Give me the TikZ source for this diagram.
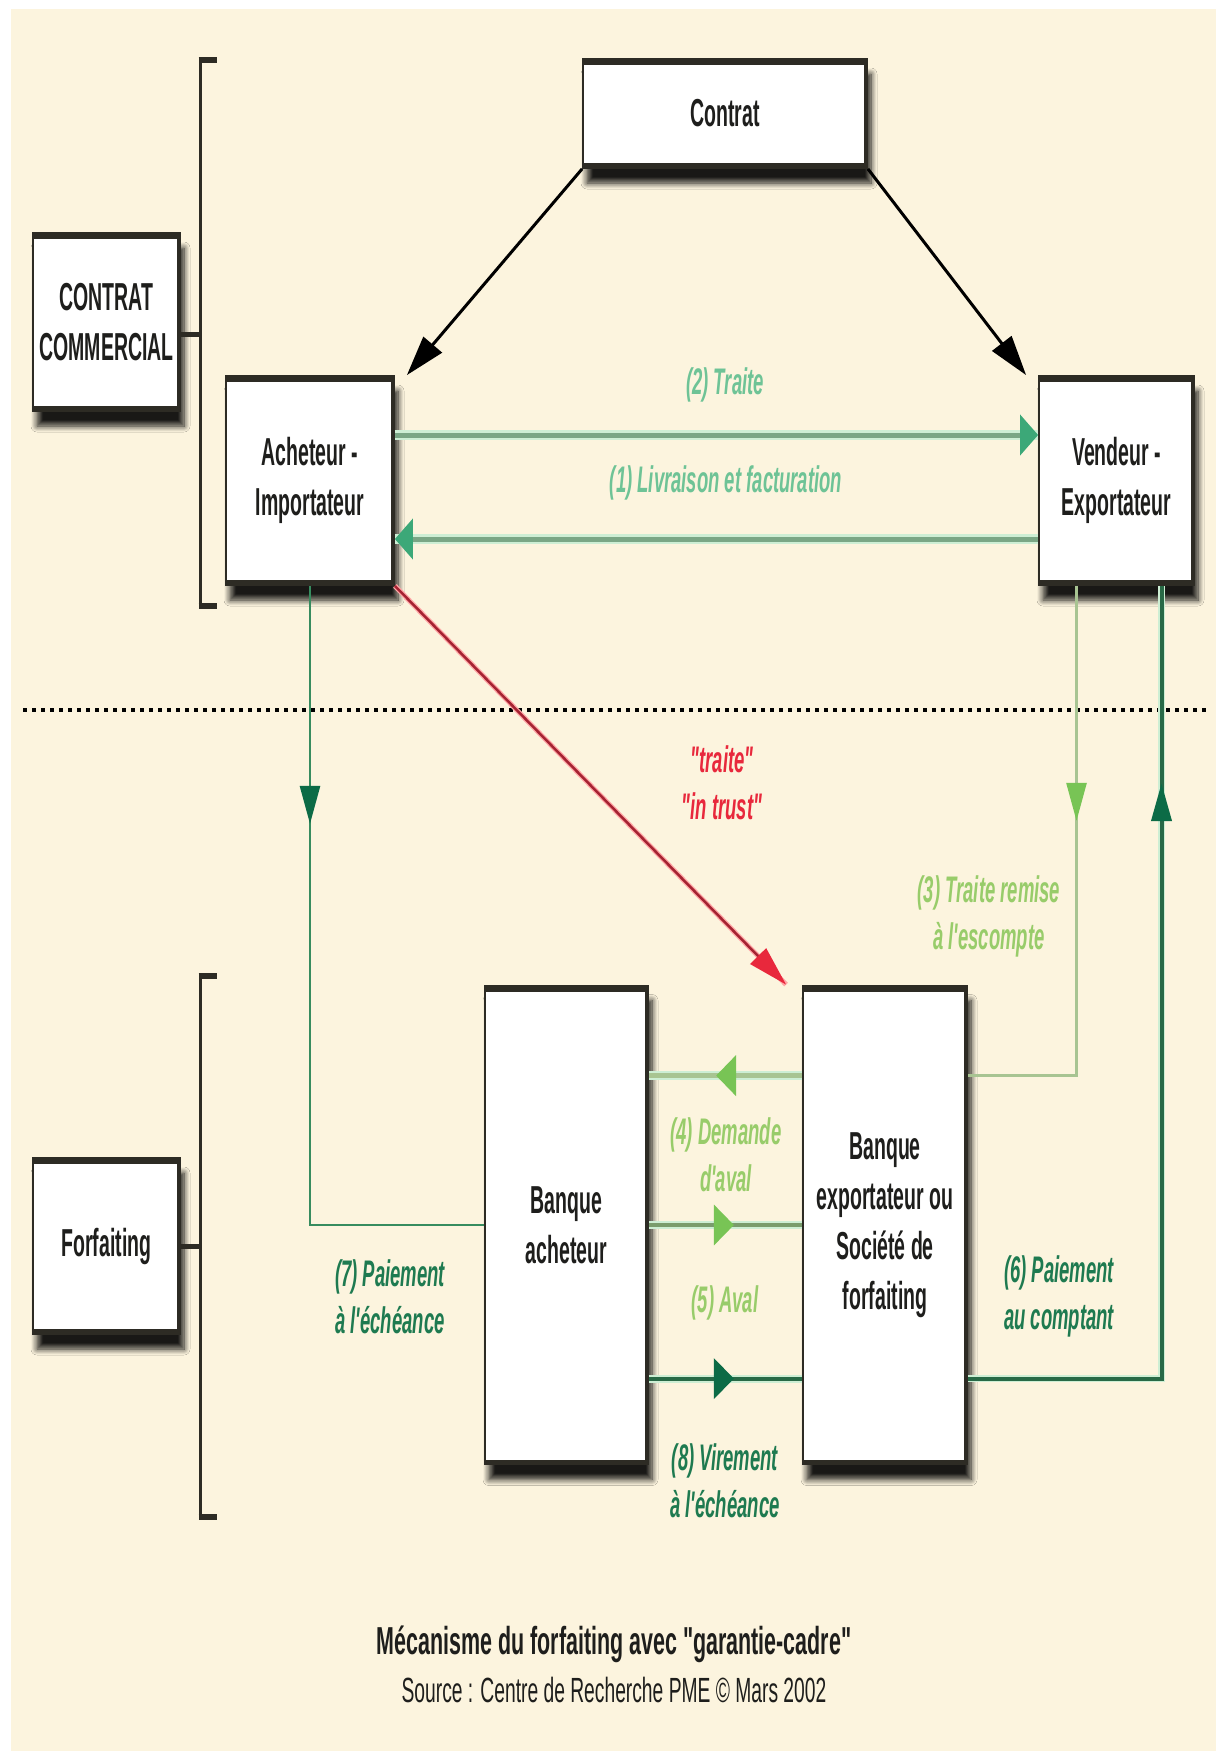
\documentclass[tikz,border=0pt]{standalone}
\usepackage{fontspec}
\newfontfamily\cf[FakeStretch=0.55]{Liberation Sans}
\newfontfamily\cfn[FakeStretch=0.5]{Liberation Sans}
\usetikzlibrary{arrows.meta,decorations.markings,shadows.blur}
\definecolor{cream}{RGB}{252,244,222}
\definecolor{boxedge}{RGB}{45,43,36}
\definecolor{mint}{RGB}{110,195,150}
\definecolor{minthead}{RGB}{60,168,120}
\definecolor{mintline}{RGB}{122,166,133}
\definecolor{mintglow}{RGB}{205,238,212}
\definecolor{lgreen}{RGB}{152,204,106}
\definecolor{lgline}{RGB}{168,196,146}
\definecolor{lghead}{RGB}{120,196,85}
\definecolor{mgline}{RGB}{122,156,108}
\definecolor{dgreen}{RGB}{30,122,80}
\definecolor{dgline}{RGB}{40,105,70}
\definecolor{dghead}{RGB}{12,107,70}
\definecolor{vline}{RGB}{55,140,95}
\definecolor{redtxt}{RGB}{232,40,60}
\definecolor{redline}{RGB}{165,35,50}
\definecolor{txt}{RGB}{30,30,28}
\begin{document}
\begin{tikzpicture}[x=1pt,y=-1pt,
  box/.style={draw=boxedge, line width=1.8pt, fill=white, inner sep=0pt, align=center,
    text=txt, font=\cfn\bfseries\fontsize{39}{50}\selectfont,
    blur shadow={shadow xshift=4pt, shadow yshift=-15pt, shadow blur radius=6pt, shadow blur steps=8, shadow opacity=90},
    path picture={
      \fill[boxedge] (path picture bounding box.north west) rectangle ([yshift=-6pt]path picture bounding box.north east);
      \fill[boxedge] (path picture bounding box.south west) rectangle ([yshift=5pt]path picture bounding box.south east);
      \fill[boxedge] (path picture bounding box.north east) rectangle ([xshift=-3pt]path picture bounding box.south east);}},
  lab/.style={font=\cfn\bfseries\itshape\fontsize{37}{47}\selectfont, align=center, inner sep=0pt},
  blk/.style={draw=black, line width=3pt, -{Triangle[length=40pt,width=24pt]}},
  redarrow/.style={draw=redline, line width=2.5pt, preaction={draw=red!35, line width=5pt, -},
    -{Triangle[length=40pt,width=22pt,fill=redtxt,color=redtxt]}},
  toparrow/.style={draw=mintline, line width=5pt, preaction={draw=mintglow, line width=10pt, -},
    -{Triangle[length=18pt,width=40pt,fill=minthead,color=minthead]}},
  midarrow/.style n args={3}{postaction={decorate, decoration={markings,
    mark=at position #1 with {\arrow{Triangle[#3,fill=#2,color=#2]}}}}},
  bracket/.style={draw=boxedge, line width=3pt},
  tick/.style={draw=boxedge, line width=6pt}
]
\useasboundingbox (0,0) rectangle (1216,1751);
\fill[white] (0,0) rectangle (1216,1751);
\fill[cream] (11,9) rectangle (1216,1751);

% boxes
\node[box, minimum width=284pt, minimum height=109pt] (con) at (725,113.5) {Contrat};
\node[box, minimum width=147pt, minimum height=178pt] (cc) at (106.5,322) {CONTRAT\\COMMERCIAL};
\node[box, minimum width=168pt, minimum height=209pt] (ach) at (310,480.5) {Acheteur -\\Importateur};
\node[box, minimum width=155pt, minimum height=209pt] (ven) at (1116.5,480.5) {Vendeur -\\Exportateur};
\node[box, minimum width=147pt, minimum height=176pt] (forf) at (106.5,1246) {Forfaiting};
\node[box, minimum width=163pt, minimum height=479pt] (bach) at (566.5,1225) {Banque\\acheteur};
\node[box, minimum width=164pt, minimum height=479pt] (bexp) at (885,1225) {Banque\\exportateur ou\\Société de\\forfaiting};

% brackets
\draw[bracket] (200,57) -- (200,609);
\draw[tick] (198.5,60) -- (217,60);
\draw[tick] (198.5,606) -- (217,606);
\draw[tick, line width=5pt] ([yshift=-12pt]cc.east) -- +(20,0);
\draw[bracket] (200,973) -- (200,1520);
\draw[tick] (198.5,976) -- (217,976);
\draw[tick] (198.5,1517) -- (217,1517);
\draw[tick, line width=5pt] (forf.east) -- +(20,0);

% dotted separator
\draw[black, line width=4.5pt, dash pattern=on 4pt off 5pt] (23,710) -- (1206,710);

% contract arrows
\draw[blk] (con.south west) -- ([xshift=12pt]ach.north east);
\draw[blk] (con.south east) -- ([xshift=-12pt]ven.north west);

% (2) and (1)
\draw[toparrow] ([yshift=45.5pt]ach.east) -- ([yshift=45.5pt]ven.west);
\draw[toparrow] ([yshift=-58.5pt]ven.west) -- ([yshift=-58.5pt]ach.east);

% red traite in trust
\draw[redarrow] (ach.south east) -- ([xshift=-16pt]bexp.north west);

% (7) left path
\draw[vline, line width=2.5pt, midarrow={238pt}{dghead}{length=38pt,width=20pt}] (ach.south) |- (bach.west);

% (3) light green path
\draw[lgline, line width=2.5pt, midarrow={235pt}{lghead}{length=38pt,width=20pt}] ([xshift=-40pt]ven.south) |- ([yshift=-91pt]bexp.north east);

% (6) dark green path
\draw[dgline, line width=4pt, preaction={draw=mintglow, line width=7pt}, midarrow={789pt}{dghead}{length=38pt,width=20pt}] ([yshift=-394pt]bexp.north east) -| ([xshift=45pt]ven.south);

% (4)
\draw[lgline, line width=5pt, preaction={draw=mintglow, line width=9pt}, midarrow={86pt}{lghead}{length=20pt,width=40pt}] ([yshift=-91pt]bexp.north west) -- ([yshift=-91pt]bach.north east);
% (5)
\draw[mgline, line width=4pt, preaction={draw=mintglow, line width=8pt}, midarrow={85pt}{lghead}{length=20pt,width=40pt}] (bach.east) -- (bexp.west);
% (8)
\draw[dgline, line width=4pt, preaction={draw=mintglow, line width=8pt}, midarrow={85pt}{dghead}{length=20pt,width=40pt}] ([yshift=-394pt]bach.north east) -- ([yshift=-394pt]bexp.north west);

% labels
\node[lab, text=mint] (l2) at (725,385) {(2) Traite};
\node[lab, text=mint] (l1) at (726,483) {(1) Livraison et facturation};
\node[lab, text=redtxt] (ltr) at (722,783) {"traite"\\"in trust"};
\node[lab, text=lgreen] (l3) at (989,916) {(3) Traite remise\\à l'escompte};
\node[lab, text=lgreen] (l4) at (726,1155) {(4) Demande\\d'aval};
\node[lab, text=lgreen] (l5) at (725,1303) {(5) Aval};
\node[lab, text=dgreen] (l7) at (390,1297) {(7) Paiement\\à l'échéance};
\node[lab, text=dgreen] (l6) at (1059,1296) {(6) Paiement\\au comptant};
\node[lab, text=dgreen] (l8) at (725,1481) {(8) Virement\\à l'échéance};

% caption
\node[text=txt, font=\cf\bfseries\fontsize{39}{42}\selectfont, inner sep=0pt] (cap1) at (614,1644) {Mécanisme du forfaiting avec "garantie-cadre"};
\node[text=txt, font=\cf\fontsize{35}{38}\selectfont, inner sep=0pt] (cap2) at (614,1690) {Source : Centre de Recherche PME © Mars 2002};
\end{tikzpicture}
\end{document}
